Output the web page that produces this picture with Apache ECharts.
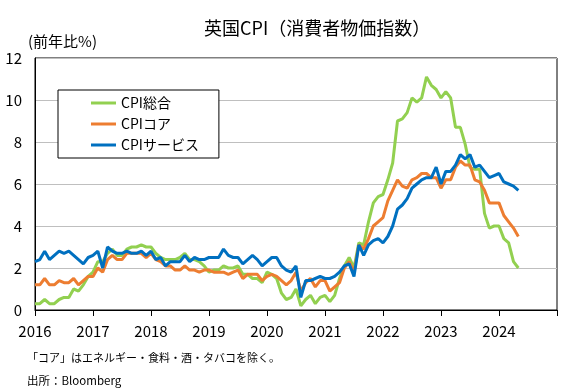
<!DOCTYPE html>
<html>
<head>
<meta charset="utf-8">
<script src="https://cdn.jsdelivr.net/npm/echarts@6/dist/echarts.min.js"></script>
<style>
html,body{margin:0;padding:0;background:#fff;}
#chart{width:570px;height:392px;}
</style>
</head>
<body>
<div id="chart"></div>
<script>
// Monthly data, Jan 2016 - May 2024 (y/y %)
const startYear = 2016;
const headline = [
  0.3,0.3,0.5,0.3,0.3,0.5,0.6,0.6,1.0,0.9,1.2,1.6,
  1.8,2.3,2.3,2.7,2.9,2.6,2.6,2.9,3.0,3.0,3.1,3.0,
  3.0,2.7,2.5,2.4,2.4,2.4,2.5,2.7,2.4,2.4,2.3,2.1,
  1.8,1.9,1.9,2.1,2.0,2.0,2.1,1.7,1.7,1.5,1.5,1.3,
  1.8,1.7,1.5,0.8,0.5,0.6,1.0,0.2,0.5,0.7,0.3,0.6,
  0.7,0.4,0.7,1.5,2.1,2.5,2.0,3.2,3.1,4.2,5.1,5.4,
  5.5,6.2,7.0,9.0,9.1,9.4,10.1,9.9,10.1,11.1,10.7,10.5,
  10.1,10.4,10.1,8.7,8.7,7.9,6.8,6.7,6.7,4.6,3.9,4.0,
  4.0,3.4,3.2,2.3,2.0
];
const core = [
  1.2,1.2,1.5,1.2,1.2,1.4,1.3,1.3,1.5,1.2,1.4,1.6,
  1.6,2.0,1.8,2.4,2.6,2.4,2.4,2.7,2.7,2.7,2.7,2.5,
  2.7,2.4,2.3,2.1,2.1,1.9,1.9,2.1,1.9,1.9,1.8,1.9,
  1.9,1.8,1.8,1.8,1.7,1.8,1.9,1.5,1.7,1.7,1.7,1.4,
  1.6,1.7,1.6,1.4,1.2,1.4,1.8,0.9,1.3,1.5,1.1,1.4,
  1.4,0.9,1.1,1.3,2.0,2.3,1.8,3.1,2.9,3.4,4.0,4.2,
  4.4,5.2,5.7,6.2,5.9,5.8,6.2,6.3,6.5,6.5,6.3,6.3,
  5.8,6.2,6.2,6.8,7.1,6.9,6.9,6.2,6.1,5.7,5.1,5.1,
  5.1,4.5,4.2,3.9,3.5
];
const services = [
  2.3,2.4,2.8,2.4,2.6,2.8,2.7,2.8,2.6,2.4,2.2,2.5,
  2.6,2.8,2.0,3.0,2.8,2.7,2.7,2.8,2.7,2.7,2.8,2.6,
  2.8,2.4,2.5,2.1,2.3,2.3,2.3,2.6,2.3,2.5,2.4,2.4,
  2.5,2.5,2.5,2.9,2.6,2.5,2.5,2.2,2.4,2.6,2.4,2.1,
  2.3,2.5,2.5,2.1,1.9,1.8,2.1,0.6,1.4,1.4,1.5,1.6,
  1.5,1.5,1.6,1.8,2.1,2.2,1.6,3.1,2.6,3.1,3.3,3.4,
  3.2,3.5,4.0,4.8,5.0,5.3,5.8,6.0,6.2,6.3,6.3,6.8,
  6.0,6.6,6.6,6.9,7.4,7.2,7.4,6.8,6.9,6.6,6.3,6.4,
  6.5,6.1,6.0,5.9,5.7
];
const seriesNames = ['CPI総合','CPIコア','CPIサービス'];
const seriesColors = ['#92D050','#ED7D31','#0070C0'];
const xMin = 2016, xMax = 2025;
const yTicks = [0,2,4,6,8,10,12];
const titleText = '英国CPI（消費者物価指数）';
const unitText = '(前年比%)';
const note1 = '「コア」はエネルギー・食料・酒・タバコを除く。';
const note2 = '出所：Bloomberg';

const FONT = '"Noto Sans CJK JP", "Noto Sans", sans-serif';
const toPairs = arr => arr.map((v, i) => [startYear + i / 12, v]);
const allData = [headline, core, services];

const chart = echarts.init(document.getElementById('chart'), null, {renderer: 'canvas'});
chart.setOption({
  animation: false,
  backgroundColor: '#fff',
  textStyle: {fontFamily: FONT},
  grid: {left: 35, right: 13, top: 58, bottom: 82, show: true, borderColor: '#000', borderWidth: 1},
  legend: {
    orient: 'vertical', left: 58, top: 90,
    data: seriesNames,
    icon: 'rect', itemWidth: 25, itemHeight: 3, itemGap: 7,
    padding: [6, 20, 6, 33],
    borderColor: '#000', borderWidth: 1, backgroundColor: '#fff',
    textStyle: {fontFamily: FONT, fontSize: 14, color: '#000', lineHeight: 14}
  },
  xAxis: {
    type: 'value', min: xMin, max: xMax, interval: 1,
    axisLine: {show: true, lineStyle: {color: '#000', width: 1}},
    axisTick: {show: true, inside: false, length: 6, lineStyle: {color: '#000'}},
    axisLabel: {fontFamily: FONT, fontSize: 15, color: '#000', margin: 14,
      formatter: v => (v >= xMax ? '' : String(Math.round(v)))},
    splitLine: {show: false}
  },
  yAxis: {
    type: 'value', min: yTicks[0], max: yTicks[yTicks.length - 1], interval: 2,
    axisLine: {show: true, lineStyle: {color: '#000', width: 1}},
    axisTick: {show: false},
    axisLabel: {fontFamily: FONT, fontSize: 15, color: '#000', margin: 13},
    splitLine: {show: true, lineStyle: {color: '#BFBFBF', width: 1}}
  },
  series: seriesNames.map((name, k) => ({
    name: name, type: 'line', data: toPairs(allData[k]),
    showSymbol: false, symbol: 'none',
    lineStyle: {color: seriesColors[k], width: 3},
    itemStyle: {color: seriesColors[k]},
    z: 2 + k
  })),
  graphic: [
    {type: 'text', left: 204, top: 19, z: 10,
      style: {text: titleText, font: '18px ' + FONT, fill: '#000'}},
    {type: 'text', left: 28, top: 34, z: 10,
      style: {text: unitText, font: '15px ' + FONT, fill: '#000'}},
    {type: 'text', left: 27, top: 352, z: 10,
      style: {text: note1, font: '11px ' + FONT, fill: '#000'}},
    {type: 'text', left: 27, top: 375, z: 10,
      style: {text: note2, font: '11.5px ' + FONT, fill: '#000'}}
  ]
});
</script>
</body>
</html>
